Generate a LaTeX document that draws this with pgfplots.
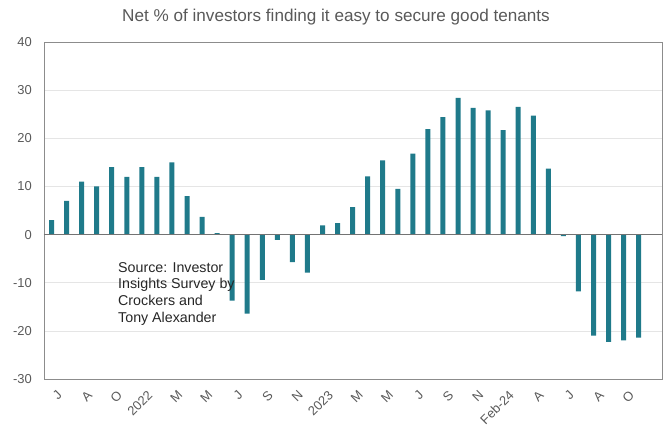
\documentclass[border=0pt]{standalone}
\usepackage{pgfplots}
\pgfplotsset{compat=1.18}
\usepackage{fontspec}
\setmainfont{Liberation Sans}
\definecolor{barc}{HTML}{1F7A8A}
\definecolor{txt}{HTML}{595959}
\begin{document}
\begin{tikzpicture}
\useasboundingbox (-44bp,-50bp) rectangle (625bp,379bp);
\begin{axis}[
 scale only axis, width=618bp, height=337bp,
 xmin=-0.5, xmax=40.55, ymin=-30, ymax=40,
 ytick={-30,-20,...,40},
 xtick={0,2,...,38},
 xticklabels={J,A,O,2022,M,M,J,S,N,2023,M,M,J,S,N,Feb-24,A,J,A,O},
 ymajorgrids, grid style={draw=black!10, line width=0.6bp},
 axis line style={draw=black!45, line width=0.8bp},
 major tick length=0pt,
 ybar, bar width=5bp,
 /pgf/number format/assume math mode=true,
 tick label style={font=\fontsize{13}{15}\selectfont, text=txt},
 yticklabel style={inner sep=0pt, xshift=-12bp},
 xticklabel style={rotate=45, anchor=north east, inner sep=0pt, yshift=-11bp, xshift=-4bp},
]
\addplot[fill=barc, draw=none] coordinates {
(0,3) (1,7) (2,11) (3,10) (4,14) (5,12) (6,14) (7,12) (8,15) (9,8)
(10,3.7) (11,0.3) (12,-13.7) (13,-16.4) (14,-9.4) (15,-1.1) (16,-5.7) (17,-7.9) (18,1.9) (19,2.4)
(20,5.7) (21,12.1) (22,15.4) (23,9.5) (24,16.8) (25,21.9) (26,24.4) (27,28.4) (28,26.3) (29,25.8)
(30,21.7) (31,26.5) (32,24.7) (33,13.7) (34,-0.3) (35,-11.8) (36,-21) (37,-22.3) (38,-22) (39,-21.4)
};
\draw[black!55, line width=0.8bp] (axis cs:-0.5,0) -- (axis cs:40.55,0);
\end{axis}
\node[text=txt, font=\fontsize{17.2}{20}\selectfont] at (292bp,362bp) {Net \% of investors finding it easy to secure good tenants};
\node[anchor=north west, align=left, font=\fontsize{14.3}{16.8}\selectfont, inner sep=0pt, text=black!85] at (74bp,117bp) {Source: Investor\\Insights Survey by\\Crockers and\\Tony Alexander};
\end{tikzpicture}
\end{document}
